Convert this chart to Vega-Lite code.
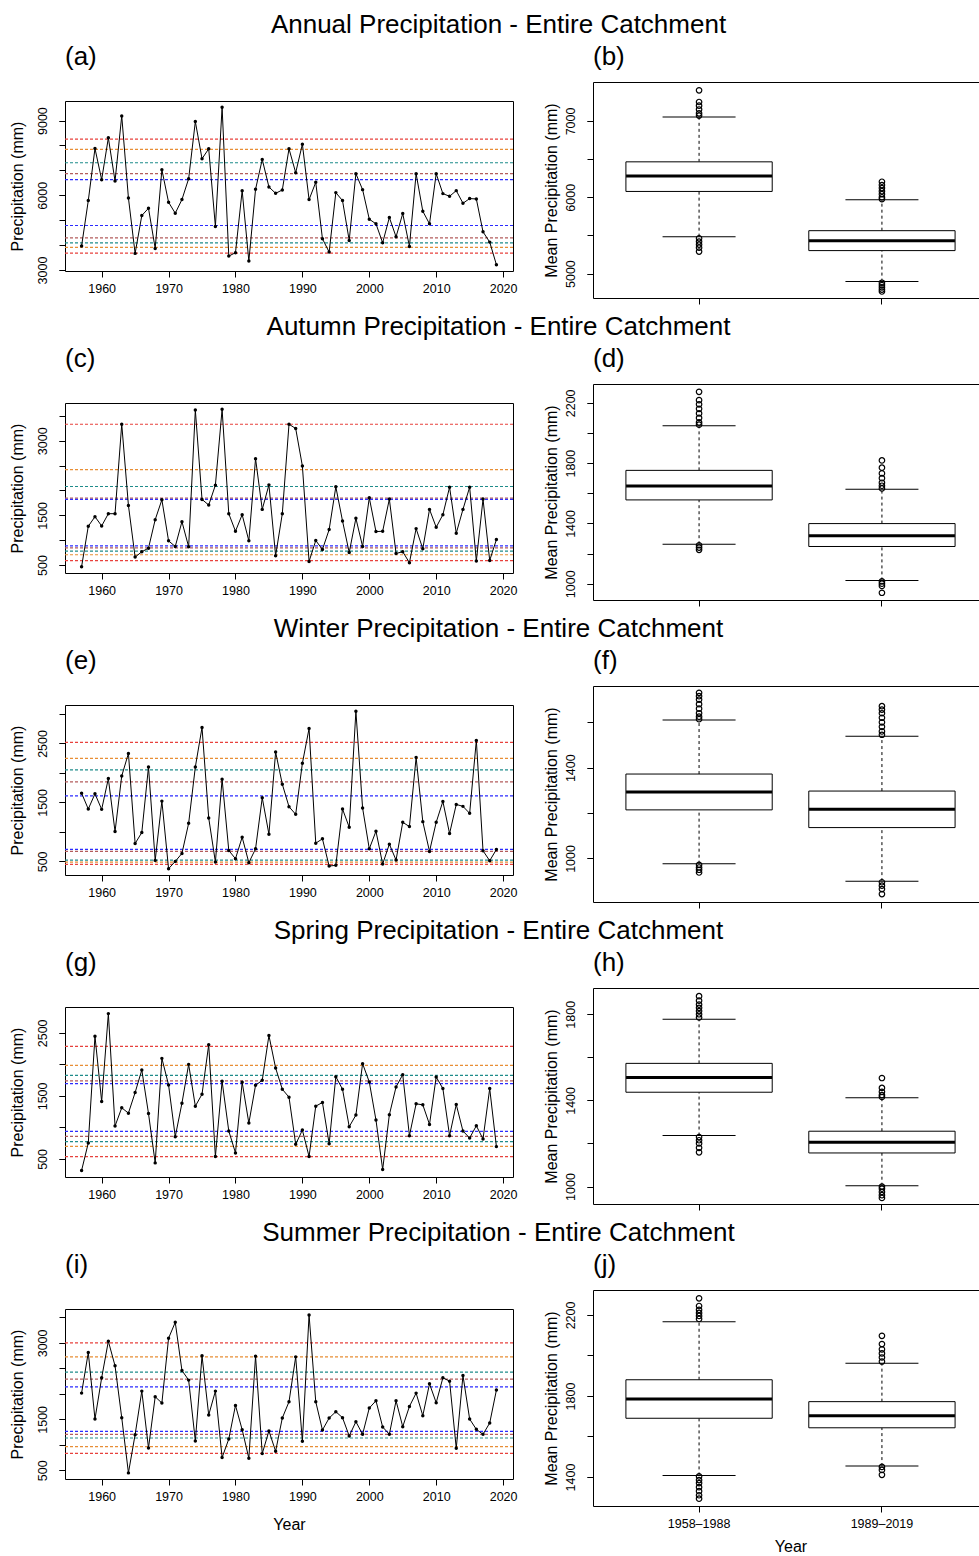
{
"$schema": "https://vega.github.io/schema/vega-lite/v6.json",
"background": "white",
"padding": {"left": 8, "top": 11, "right": 0, "bottom": 0},
"datasets": {
"series": [
{"season":"Annual","year":1957,"precip":3960},{"season":"Annual","year":1958,"precip":5787},{"season":"Annual","year":1959,"precip":7880},{"season":"Annual","year":1960,"precip":6627},{"season":"Annual","year":1961,"precip":8307},{"season":"Annual","year":1962,"precip":6573},{"season":"Annual","year":1963,"precip":9187},{"season":"Annual","year":1964,"precip":5893},{"season":"Annual","year":1965,"precip":3667},{"season":"Annual","year":1966,"precip":5187},{"season":"Annual","year":1967,"precip":5480},{"season":"Annual","year":1968,"precip":3867},{"season":"Annual","year":1969,"precip":7027},{"season":"Annual","year":1970,"precip":5720},{"season":"Annual","year":1971,"precip":5280},{"season":"Annual","year":1972,"precip":5827},{"season":"Annual","year":1973,"precip":6667},{"season":"Annual","year":1974,"precip":8960},{"season":"Annual","year":1975,"precip":7467},{"season":"Annual","year":1976,"precip":7867},{"season":"Annual","year":1977,"precip":4747},{"season":"Annual","year":1978,"precip":9533},{"season":"Annual","year":1979,"precip":3560},{"season":"Annual","year":1980,"precip":3693},{"season":"Annual","year":1981,"precip":6187},{"season":"Annual","year":1982,"precip":3360},{"season":"Annual","year":1983,"precip":6240},{"season":"Annual","year":1984,"precip":7440},{"season":"Annual","year":1985,"precip":6333},{"season":"Annual","year":1986,"precip":6080},{"season":"Annual","year":1987,"precip":6213},{"season":"Annual","year":1988,"precip":7867},{"season":"Annual","year":1989,"precip":6907},{"season":"Annual","year":1990,"precip":8053},{"season":"Annual","year":1991,"precip":5827},{"season":"Annual","year":1992,"precip":6520},{"season":"Annual","year":1993,"precip":4253},{"season":"Annual","year":1994,"precip":3720},{"season":"Annual","year":1995,"precip":6107},{"season":"Annual","year":1996,"precip":5787},{"season":"Annual","year":1997,"precip":4187},{"season":"Annual","year":1998,"precip":6867},{"season":"Annual","year":1999,"precip":6227},{"season":"Annual","year":2000,"precip":5040},{"season":"Annual","year":2001,"precip":4853},{"season":"Annual","year":2002,"precip":4093},{"season":"Annual","year":2003,"precip":5107},{"season":"Annual","year":2004,"precip":4333},{"season":"Annual","year":2005,"precip":5267},{"season":"Annual","year":2006,"precip":3947},{"season":"Annual","year":2007,"precip":6867},{"season":"Annual","year":2008,"precip":5360},{"season":"Annual","year":2009,"precip":4853},{"season":"Annual","year":2010,"precip":6867},{"season":"Annual","year":2011,"precip":6067},{"season":"Annual","year":2012,"precip":5960},{"season":"Annual","year":2013,"precip":6187},{"season":"Annual","year":2014,"precip":5680},{"season":"Annual","year":2015,"precip":5867},{"season":"Annual","year":2016,"precip":5853},{"season":"Annual","year":2017,"precip":4533},{"season":"Annual","year":2018,"precip":4120},{"season":"Annual","year":2019,"precip":3213},
{"season":"Autumn","year":1957,"precip":467},{"season":"Autumn","year":1958,"precip":1280},{"season":"Autumn","year":1959,"precip":1473},{"season":"Autumn","year":1960,"precip":1287},{"season":"Autumn","year":1961,"precip":1533},{"season":"Autumn","year":1962,"precip":1533},{"season":"Autumn","year":1963,"precip":3333},{"season":"Autumn","year":1964,"precip":1700},{"season":"Autumn","year":1965,"precip":660},{"season":"Autumn","year":1966,"precip":767},{"season":"Autumn","year":1967,"precip":840},{"season":"Autumn","year":1968,"precip":1413},{"season":"Autumn","year":1969,"precip":1813},{"season":"Autumn","year":1970,"precip":987},{"season":"Autumn","year":1971,"precip":873},{"season":"Autumn","year":1972,"precip":1373},{"season":"Autumn","year":1973,"precip":867},{"season":"Autumn","year":1974,"precip":3620},{"season":"Autumn","year":1975,"precip":1820},{"season":"Autumn","year":1976,"precip":1707},{"season":"Autumn","year":1977,"precip":2107},{"season":"Autumn","year":1978,"precip":3633},{"season":"Autumn","year":1979,"precip":1533},{"season":"Autumn","year":1980,"precip":1180},{"season":"Autumn","year":1981,"precip":1513},{"season":"Autumn","year":1982,"precip":987},{"season":"Autumn","year":1983,"precip":2640},{"season":"Autumn","year":1984,"precip":1620},{"season":"Autumn","year":1985,"precip":2113},{"season":"Autumn","year":1986,"precip":687},{"season":"Autumn","year":1987,"precip":1533},{"season":"Autumn","year":1988,"precip":3333},{"season":"Autumn","year":1989,"precip":3247},{"season":"Autumn","year":1990,"precip":2493},{"season":"Autumn","year":1991,"precip":573},{"season":"Autumn","year":1992,"precip":993},{"season":"Autumn","year":1993,"precip":813},{"season":"Autumn","year":1994,"precip":1213},{"season":"Autumn","year":1995,"precip":2073},{"season":"Autumn","year":1996,"precip":1387},{"season":"Autumn","year":1997,"precip":753},{"season":"Autumn","year":1998,"precip":1440},{"season":"Autumn","year":1999,"precip":873},{"season":"Autumn","year":2000,"precip":1853},{"season":"Autumn","year":2001,"precip":1173},{"season":"Autumn","year":2002,"precip":1180},{"season":"Autumn","year":2003,"precip":1827},{"season":"Autumn","year":2004,"precip":733},{"season":"Autumn","year":2005,"precip":767},{"season":"Autumn","year":2006,"precip":547},{"season":"Autumn","year":2007,"precip":1233},{"season":"Autumn","year":2008,"precip":827},{"season":"Autumn","year":2009,"precip":1620},{"season":"Autumn","year":2010,"precip":1260},{"season":"Autumn","year":2011,"precip":1513},{"season":"Autumn","year":2012,"precip":2067},{"season":"Autumn","year":2013,"precip":1140},{"season":"Autumn","year":2014,"precip":1620},{"season":"Autumn","year":2015,"precip":2067},{"season":"Autumn","year":2016,"precip":580},{"season":"Autumn","year":2017,"precip":1827},{"season":"Autumn","year":2018,"precip":593},{"season":"Autumn","year":2019,"precip":1013},
{"season":"Winter","year":1957,"precip":1657},{"season":"Winter","year":1958,"precip":1388},{"season":"Winter","year":1959,"precip":1646},{"season":"Winter","year":1960,"precip":1382},{"season":"Winter","year":1961,"precip":1904},{"season":"Winter","year":1962,"precip":1006},{"season":"Winter","year":1963,"precip":1949},{"season":"Winter","year":1964,"precip":2331},{"season":"Winter","year":1965,"precip":803},{"season":"Winter","year":1966,"precip":989},{"season":"Winter","year":1967,"precip":2101},{"season":"Winter","year":1968,"precip":517},{"season":"Winter","year":1969,"precip":1522},{"season":"Winter","year":1970,"precip":376},{"season":"Winter","year":1971,"precip":500},{"season":"Winter","year":1972,"precip":635},{"season":"Winter","year":1973,"precip":1146},{"season":"Winter","year":1974,"precip":2101},{"season":"Winter","year":1975,"precip":2770},{"season":"Winter","year":1976,"precip":1236},{"season":"Winter","year":1977,"precip":489},{"season":"Winter","year":1978,"precip":1893},{"season":"Winter","year":1979,"precip":685},{"season":"Winter","year":1980,"precip":545},{"season":"Winter","year":1981,"precip":910},{"season":"Winter","year":1982,"precip":478},{"season":"Winter","year":1983,"precip":713},{"season":"Winter","year":1984,"precip":1579},{"season":"Winter","year":1985,"precip":961},{"season":"Winter","year":1986,"precip":2354},{"season":"Winter","year":1987,"precip":1809},{"season":"Winter","year":1988,"precip":1427},{"season":"Winter","year":1989,"precip":1298},{"season":"Winter","year":1990,"precip":2163},{"season":"Winter","year":1991,"precip":2753},{"season":"Winter","year":1992,"precip":809},{"season":"Winter","year":1993,"precip":882},{"season":"Winter","year":1994,"precip":421},{"season":"Winter","year":1995,"precip":433},{"season":"Winter","year":1996,"precip":1388},{"season":"Winter","year":1997,"precip":1079},{"season":"Winter","year":1998,"precip":3045},{"season":"Winter","year":1999,"precip":1404},{"season":"Winter","year":2000,"precip":713},{"season":"Winter","year":2001,"precip":1011},{"season":"Winter","year":2002,"precip":455},{"season":"Winter","year":2003,"precip":792},{"season":"Winter","year":2004,"precip":522},{"season":"Winter","year":2005,"precip":1163},{"season":"Winter","year":2006,"precip":1090},{"season":"Winter","year":2007,"precip":2264},{"season":"Winter","year":2008,"precip":1174},{"season":"Winter","year":2009,"precip":669},{"season":"Winter","year":2010,"precip":1163},{"season":"Winter","year":2011,"precip":1517},{"season":"Winter","year":2012,"precip":972},{"season":"Winter","year":2013,"precip":1466},{"season":"Winter","year":2014,"precip":1433},{"season":"Winter","year":2015,"precip":1315},{"season":"Winter","year":2016,"precip":2551},{"season":"Winter","year":2017,"precip":680},{"season":"Winter","year":2018,"precip":511},{"season":"Winter","year":2019,"precip":702},
{"season":"Spring","year":1957,"precip":316},{"season":"Spring","year":1958,"precip":753},{"season":"Spring","year":1959,"precip":2447},{"season":"Spring","year":1960,"precip":1411},{"season":"Spring","year":1961,"precip":2805},{"season":"Spring","year":1962,"precip":1021},{"season":"Spring","year":1963,"precip":1311},{"season":"Spring","year":1964,"precip":1226},{"season":"Spring","year":1965,"precip":1553},{"season":"Spring","year":1966,"precip":1911},{"season":"Spring","year":1967,"precip":1221},{"season":"Spring","year":1968,"precip":437},{"season":"Spring","year":1969,"precip":2095},{"season":"Spring","year":1970,"precip":1674},{"season":"Spring","year":1971,"precip":853},{"season":"Spring","year":1972,"precip":1384},{"season":"Spring","year":1973,"precip":2000},{"season":"Spring","year":1974,"precip":1337},{"season":"Spring","year":1975,"precip":1526},{"season":"Spring","year":1976,"precip":2311},{"season":"Spring","year":1977,"precip":537},{"season":"Spring","year":1978,"precip":1732},{"season":"Spring","year":1979,"precip":942},{"season":"Spring","year":1980,"precip":595},{"season":"Spring","year":1981,"precip":1716},{"season":"Spring","year":1982,"precip":1068},{"season":"Spring","year":1983,"precip":1668},{"season":"Spring","year":1984,"precip":1747},{"season":"Spring","year":1985,"precip":2458},{"season":"Spring","year":1986,"precip":1942},{"season":"Spring","year":1987,"precip":1605},{"season":"Spring","year":1988,"precip":1479},{"season":"Spring","year":1989,"precip":732},{"season":"Spring","year":1990,"precip":958},{"season":"Spring","year":1991,"precip":537},{"season":"Spring","year":1992,"precip":1337},{"season":"Spring","year":1993,"precip":1395},{"season":"Spring","year":1994,"precip":742},{"season":"Spring","year":1995,"precip":1805},{"season":"Spring","year":1996,"precip":1605},{"season":"Spring","year":1997,"precip":1011},{"season":"Spring","year":1998,"precip":1195},{"season":"Spring","year":1999,"precip":2011},{"season":"Spring","year":2000,"precip":1721},{"season":"Spring","year":2001,"precip":1116},{"season":"Spring","year":2002,"precip":332},{"season":"Spring","year":2003,"precip":1200},{"season":"Spring","year":2004,"precip":1642},{"season":"Spring","year":2005,"precip":1837},{"season":"Spring","year":2006,"precip":868},{"season":"Spring","year":2007,"precip":1374},{"season":"Spring","year":2008,"precip":1358},{"season":"Spring","year":2009,"precip":1047},{"season":"Spring","year":2010,"precip":1800},{"season":"Spring","year":2011,"precip":1616},{"season":"Spring","year":2012,"precip":868},{"season":"Spring","year":2013,"precip":1363},{"season":"Spring","year":2014,"precip":942},{"season":"Spring","year":2015,"precip":832},{"season":"Spring","year":2016,"precip":1026},{"season":"Spring","year":2017,"precip":816},{"season":"Spring","year":2018,"precip":1616},{"season":"Spring","year":2019,"precip":695},
{"season":"Summer","year":1957,"precip":2015},{"season":"Summer","year":1958,"precip":2811},{"season":"Summer","year":1959,"precip":1506},{"season":"Summer","year":1960,"precip":2315},{"season":"Summer","year":1961,"precip":3033},{"season":"Summer","year":1962,"precip":2550},{"season":"Summer","year":1963,"precip":1533},{"season":"Summer","year":1964,"precip":450},{"season":"Summer","year":1965,"precip":1200},{"season":"Summer","year":1966,"precip":2054},{"season":"Summer","year":1967,"precip":939},{"season":"Summer","year":1968,"precip":1943},{"season":"Summer","year":1969,"precip":1820},{"season":"Summer","year":1970,"precip":3091},{"season":"Summer","year":1971,"precip":3404},{"season":"Summer","year":1972,"precip":2459},{"season":"Summer","year":1973,"precip":2270},{"season":"Summer","year":1974,"precip":1076},{"season":"Summer","year":1975,"precip":2746},{"season":"Summer","year":1976,"precip":1585},{"season":"Summer","year":1977,"precip":2054},{"season":"Summer","year":1978,"precip":750},{"season":"Summer","year":1979,"precip":1115},{"season":"Summer","year":1980,"precip":1774},{"season":"Summer","year":1981,"precip":1298},{"season":"Summer","year":1982,"precip":737},{"season":"Summer","year":1983,"precip":2739},{"season":"Summer","year":1984,"precip":828},{"season":"Summer","year":1985,"precip":1272},{"season":"Summer","year":1986,"precip":874},{"season":"Summer","year":1987,"precip":1526},{"season":"Summer","year":1988,"precip":1846},{"season":"Summer","year":1989,"precip":2726},{"season":"Summer","year":1990,"precip":1070},{"season":"Summer","year":1991,"precip":3548},{"season":"Summer","year":1992,"precip":1846},{"season":"Summer","year":1993,"precip":1291},{"season":"Summer","year":1994,"precip":1526},{"season":"Summer","year":1995,"precip":1650},{"season":"Summer","year":1996,"precip":1533},{"season":"Summer","year":1997,"precip":1174},{"season":"Summer","year":1998,"precip":1454},{"season":"Summer","year":1999,"precip":1207},{"season":"Summer","year":2000,"precip":1722},{"season":"Summer","year":2001,"precip":1865},{"season":"Summer","year":2002,"precip":1350},{"season":"Summer","year":2003,"precip":1207},{"season":"Summer","year":2004,"precip":1865},{"season":"Summer","year":2005,"precip":1356},{"season":"Summer","year":2006,"precip":1754},{"season":"Summer","year":2007,"precip":2015},{"season":"Summer","year":2008,"precip":1572},{"season":"Summer","year":2009,"precip":2198},{"season":"Summer","year":2010,"precip":1826},{"season":"Summer","year":2011,"precip":2315},{"season":"Summer","year":2012,"precip":2250},{"season":"Summer","year":2013,"precip":933},{"season":"Summer","year":2014,"precip":2361},{"season":"Summer","year":2015,"precip":1506},{"season":"Summer","year":2016,"precip":1304},{"season":"Summer","year":2017,"precip":1207},{"season":"Summer","year":2018,"precip":1428},{"season":"Summer","year":2019,"precip":2074}
],
"thresholds": [
{"season":"Annual","level":"L1","value":8253},{"season":"Annual","level":"L2","value":7840},{"season":"Annual","level":"L3","value":7307},{"season":"Annual","level":"L4","value":6867},{"season":"Annual","level":"L5","value":6627},
{"season":"Annual","level":"L5","value":4787},{"season":"Annual","level":"L4","value":4293},{"season":"Annual","level":"L3","value":4093},{"season":"Annual","level":"L2","value":3907},{"season":"Annual","level":"L1","value":3680},
{"season":"Autumn","level":"L1","value":3333},{"season":"Autumn","level":"L2","value":2420},{"season":"Autumn","level":"L3","value":2080},{"season":"Autumn","level":"L4","value":1847},{"season":"Autumn","level":"L5","value":1820},
{"season":"Autumn","level":"L5","value":887},{"season":"Autumn","level":"L4","value":847},{"season":"Autumn","level":"L3","value":780},{"season":"Autumn","level":"L2","value":707},{"season":"Autumn","level":"L1","value":587},
{"season":"Winter","level":"L1","value":2517},{"season":"Winter","level":"L2","value":2247},{"season":"Winter","level":"L3","value":2051},{"season":"Winter","level":"L4","value":1848},{"season":"Winter","level":"L5","value":1612},
{"season":"Winter","level":"L5","value":702},{"season":"Winter","level":"L4","value":669},{"season":"Winter","level":"L3","value":522},{"season":"Winter","level":"L2","value":489},{"season":"Winter","level":"L1","value":449},
{"season":"Spring","level":"L1","value":2284},{"season":"Spring","level":"L2","value":1984},{"season":"Spring","level":"L3","value":1826},{"season":"Spring","level":"L4","value":1737},{"season":"Spring","level":"L5","value":1695},
{"season":"Spring","level":"L5","value":937},{"season":"Spring","level":"L4","value":858},{"season":"Spring","level":"L3","value":774},{"season":"Spring","level":"L2","value":700},{"season":"Spring","level":"L1","value":537},
{"season":"Summer","level":"L1","value":3000},{"season":"Summer","level":"L2","value":2726},{"season":"Summer","level":"L3","value":2426},{"season":"Summer","level":"L4","value":2289},{"season":"Summer","level":"L5","value":2139},
{"season":"Summer","level":"L5","value":1265},{"season":"Summer","level":"L4","value":1206},{"season":"Summer","level":"L3","value":1134},{"season":"Summer","level":"L2","value":965},{"season":"Summer","level":"L1","value":834}
],
"boxes": [
{"season":"Annual","period":"1958–1988","lw":5484,"q1":6076,"med":6277,"q3":6464,"uw":7052},
{"season":"Annual","period":"1989–2019","lw":4895,"q1":5301,"med":5431,"q3":5562,"uw":5967},
{"season":"Autumn","period":"1958–1988","lw":1262,"q1":1556,"med":1648,"q3":1752,"uw":2048},
{"season":"Autumn","period":"1989–2019","lw":1022,"q1":1247,"med":1318,"q3":1399,"uw":1626},
{"season":"Winter","period":"1958–1988","lw":977,"q1":1214,"med":1293,"q3":1372,"uw":1610},
{"season":"Winter","period":"1989–2019","lw":900,"q1":1136,"med":1217,"q3":1297,"uw":1539},
{"season":"Spring","period":"1958–1988","lw":1237,"q1":1438,"med":1506,"q3":1572,"uw":1777},
{"season":"Spring","period":"1989–2019","lw":1004,"q1":1156,"med":1206,"q3":1257,"uw":1412},
{"season":"Summer","period":"1958–1988","lw":1408,"q1":1690,"med":1785,"q3":1880,"uw":2166},
{"season":"Summer","period":"1989–2019","lw":1454,"q1":1643,"med":1703,"q3":1772,"uw":1962}
],
"outliers": [
{"season":"Annual","period":"1958–1988","value":7401},{"season":"Annual","period":"1958–1988","value":7248},{"season":"Annual","period":"1958–1988","value":7200},{"season":"Annual","period":"1958–1988","value":7150},{"season":"Annual","period":"1958–1988","value":7100},{"season":"Annual","period":"1958–1988","value":7070},{"season":"Annual","period":"1958–1988","value":5462},{"season":"Annual","period":"1958–1988","value":5420},{"season":"Annual","period":"1958–1988","value":5380},{"season":"Annual","period":"1958–1988","value":5340},{"season":"Annual","period":"1958–1988","value":5288},
{"season":"Annual","period":"1989–2019","value":6203},{"season":"Annual","period":"1989–2019","value":6160},{"season":"Annual","period":"1989–2019","value":6120},{"season":"Annual","period":"1989–2019","value":6080},{"season":"Annual","period":"1989–2019","value":6040},{"season":"Annual","period":"1989–2019","value":6000},{"season":"Annual","period":"1989–2019","value":5976},{"season":"Annual","period":"1989–2019","value":4880},{"season":"Annual","period":"1989–2019","value":4850},{"season":"Annual","period":"1989–2019","value":4820},{"season":"Annual","period":"1989–2019","value":4790},{"season":"Annual","period":"1989–2019","value":4765},
{"season":"Autumn","period":"1958–1988","value":2273},{"season":"Autumn","period":"1958–1988","value":2218},{"season":"Autumn","period":"1958–1988","value":2190},{"season":"Autumn","period":"1958–1988","value":2160},{"season":"Autumn","period":"1958–1988","value":2130},{"season":"Autumn","period":"1958–1988","value":2100},{"season":"Autumn","period":"1958–1988","value":2070},{"season":"Autumn","period":"1958–1988","value":2055},{"season":"Autumn","period":"1958–1988","value":1255},{"season":"Autumn","period":"1958–1988","value":1240},{"season":"Autumn","period":"1958–1988","value":1225},
{"season":"Autumn","period":"1989–2019","value":1818},{"season":"Autumn","period":"1989–2019","value":1770},{"season":"Autumn","period":"1989–2019","value":1732},{"season":"Autumn","period":"1989–2019","value":1700},{"season":"Autumn","period":"1989–2019","value":1670},{"season":"Autumn","period":"1989–2019","value":1650},{"season":"Autumn","period":"1989–2019","value":1632},{"season":"Autumn","period":"1989–2019","value":1015},{"season":"Autumn","period":"1989–2019","value":1000},{"season":"Autumn","period":"1989–2019","value":985},{"season":"Autumn","period":"1989–2019","value":940},
{"season":"Winter","period":"1958–1988","value":1730},{"season":"Winter","period":"1958–1988","value":1715},{"season":"Winter","period":"1958–1988","value":1700},{"season":"Winter","period":"1958–1988","value":1680},{"season":"Winter","period":"1958–1988","value":1660},{"season":"Winter","period":"1958–1988","value":1640},{"season":"Winter","period":"1958–1988","value":1625},{"season":"Winter","period":"1958–1988","value":1614},{"season":"Winter","period":"1958–1988","value":972},{"season":"Winter","period":"1958–1988","value":960},{"season":"Winter","period":"1958–1988","value":950},{"season":"Winter","period":"1958–1988","value":938},
{"season":"Winter","period":"1989–2019","value":1671},{"season":"Winter","period":"1989–2019","value":1656},{"season":"Winter","period":"1989–2019","value":1640},{"season":"Winter","period":"1989–2019","value":1620},{"season":"Winter","period":"1989–2019","value":1600},{"season":"Winter","period":"1989–2019","value":1580},{"season":"Winter","period":"1989–2019","value":1560},{"season":"Winter","period":"1989–2019","value":1545},{"season":"Winter","period":"1989–2019","value":895},{"season":"Winter","period":"1989–2019","value":880},{"season":"Winter","period":"1989–2019","value":865},{"season":"Winter","period":"1989–2019","value":843},
{"season":"Spring","period":"1958–1988","value":1884},{"season":"Spring","period":"1958–1988","value":1863},{"season":"Spring","period":"1958–1988","value":1845},{"season":"Spring","period":"1958–1988","value":1830},{"season":"Spring","period":"1958–1988","value":1815},{"season":"Spring","period":"1958–1988","value":1800},{"season":"Spring","period":"1958–1988","value":1785},{"season":"Spring","period":"1958–1988","value":1230},{"season":"Spring","period":"1958–1988","value":1215},{"season":"Spring","period":"1958–1988","value":1200},{"season":"Spring","period":"1958–1988","value":1180},{"season":"Spring","period":"1958–1988","value":1159},
{"season":"Spring","period":"1989–2019","value":1504},{"season":"Spring","period":"1989–2019","value":1458},{"season":"Spring","period":"1989–2019","value":1440},{"season":"Spring","period":"1989–2019","value":1425},{"season":"Spring","period":"1989–2019","value":1416},{"season":"Spring","period":"1989–2019","value":1000},{"season":"Spring","period":"1989–2019","value":990},{"season":"Spring","period":"1989–2019","value":975},{"season":"Spring","period":"1989–2019","value":960},{"season":"Spring","period":"1989–2019","value":947},
{"season":"Summer","period":"1958–1988","value":2282},{"season":"Summer","period":"1958–1988","value":2244},{"season":"Summer","period":"1958–1988","value":2225},{"season":"Summer","period":"1958–1988","value":2210},{"season":"Summer","period":"1958–1988","value":2195},{"season":"Summer","period":"1958–1988","value":2180},{"season":"Summer","period":"1958–1988","value":1403},{"season":"Summer","period":"1958–1988","value":1385},{"season":"Summer","period":"1958–1988","value":1370},{"season":"Summer","period":"1958–1988","value":1350},{"season":"Summer","period":"1958–1988","value":1330},{"season":"Summer","period":"1958–1988","value":1310},{"season":"Summer","period":"1958–1988","value":1293},
{"season":"Summer","period":"1989–2019","value":2097},{"season":"Summer","period":"1989–2019","value":2056},{"season":"Summer","period":"1989–2019","value":2030},{"season":"Summer","period":"1989–2019","value":2010},{"season":"Summer","period":"1989–2019","value":1990},{"season":"Summer","period":"1989–2019","value":1970},{"season":"Summer","period":"1989–2019","value":1450},{"season":"Summer","period":"1989–2019","value":1435},{"season":"Summer","period":"1989–2019","value":1411}
]
},
"vconcat": [
{
"title": {"text": "Annual Precipitation - Entire Catchment", "anchor": "middle", "offset": 6},
"spacing": 24,
"hconcat": [
{"title": {"text": "(a)", "anchor": "start", "frame": "group", "offset": 12}, "spacing": 17,
"vconcat": [
{"width": 448, "height": 1, "data": {"values": [{}]}, "mark": {"type": "rule", "opacity": 0}, "encoding": {}, "view": {"stroke": null}},
{"width": 448, "height": 170, "resolve": {"axis": {"y": "independent"}},
"layer": [
{"data": {"name": "thresholds"}, "transform": [{"filter": "datum.season == 'Annual'"}], "mark": {"type": "rule", "strokeDash": [3, 2], "strokeWidth": 1.2},
 "encoding": {"y": {"field": "value", "type": "quantitative", "scale": {"domain": [2960, 9786], "nice": false, "zero": false}, "axis": {"orient": "left", "title": null, "labels": false, "values": [3000,4000,5000,6000,7000,8000,9000]}},
  "color": {"field": "level", "type": "nominal", "scale": {"domain": ["L1","L2","L3","L4","L5"], "range": ["#E8413C","#E88E35","#1E8C8A","#B35C5C","#2B2BFF"]}, "legend": null}}},
{"data": {"name": "series"}, "transform": [{"filter": "datum.season == 'Annual'"}], "mark": {"type": "line", "color": "black", "strokeWidth": 1},
 "encoding": {"x": {"field": "year", "type": "quantitative", "title": null, "scale": {"domain": [1954.52, 2021.48], "nice": false, "zero": false}, "axis": {"values": [1960,1970,1980,1990,2000,2010,2020], "format": "d"}},
  "y": {"field": "precip", "type": "quantitative", "title": "Precipitation (mm)", "scale": {"domain": [2960, 9786], "nice": false, "zero": false}, "axis": {"orient": "left", "values": [3000,6000,9000], "format": "d", "titlePadding": 11}}}},
{"data": {"name": "series"}, "transform": [{"filter": "datum.season == 'Annual'"}], "mark": {"type": "point", "filled": true, "color": "black", "size": 12, "opacity": 1},
 "encoding": {"x": {"field": "year", "type": "quantitative"}, "y": {"field": "precip", "type": "quantitative", "axis": null}}}
]}
]},
{"title": {"text": "(b)", "anchor": "start", "frame": "group", "offset": 12}, "width": 395, "height": 216, "resolve": {"axis": {"y": "independent"}},
"layer": [
{"data": {"name": "boxes"}, "transform": [{"filter": "datum.season == 'Annual'"}], "mark": {"type": "rule", "strokeDash": [3, 3], "color": "black", "strokeWidth": 1},
 "encoding": {"x": {"field": "period", "type": "nominal", "title": null, "scale": {"type": "band", "domain": ["1958–1988","1989–2019"], "paddingInner": 0.2, "paddingOuter": 0.18}, "axis": {"labels": false, "bandPosition": 0.5}},
  "y": {"field": "q3", "type": "quantitative", "scale": {"domain": [4680, 7510], "nice": false, "zero": false}, "axis": {"orient": "left", "title": null, "labels": false, "values": [5000,5500,6000,6500,7000]}},
  "y2": {"field": "uw"}}},
{"data": {"name": "boxes"}, "transform": [{"filter": "datum.season == 'Annual'"}], "mark": {"type": "rule", "strokeDash": [3, 3], "color": "black", "strokeWidth": 1},
 "encoding": {"x": {"field": "period", "type": "nominal"}, "y": {"field": "lw", "type": "quantitative", "axis": null}, "y2": {"field": "q1"}}},
{"data": {"name": "boxes"}, "transform": [{"filter": "datum.season == 'Annual'"}], "mark": {"type": "bar", "fill": "white", "stroke": "black", "strokeWidth": 1},
 "encoding": {"x": {"field": "period", "type": "nominal"}, "y": {"field": "q1", "type": "quantitative", "title": "Mean Precipitation (mm)", "axis": {"orient": "left", "values": [5000,6000,7000], "format": "d", "titlePadding": 5}}, "y2": {"field": "q3"}}},
{"data": {"name": "boxes"}, "transform": [{"filter": "datum.season == 'Annual'"}], "mark": {"type": "tick", "color": "black", "thickness": 3, "size": 146, "opacity": 1},
 "encoding": {"x": {"field": "period", "type": "nominal"}, "y": {"field": "med", "type": "quantitative", "axis": null}}},
{"data": {"name": "boxes"}, "transform": [{"filter": "datum.season == 'Annual'"}], "mark": {"type": "tick", "color": "black", "thickness": 1, "size": 73, "opacity": 1},
 "encoding": {"x": {"field": "period", "type": "nominal"}, "y": {"field": "uw", "type": "quantitative", "axis": null}}},
{"data": {"name": "boxes"}, "transform": [{"filter": "datum.season == 'Annual'"}], "mark": {"type": "tick", "color": "black", "thickness": 1, "size": 73, "opacity": 1},
 "encoding": {"x": {"field": "period", "type": "nominal"}, "y": {"field": "lw", "type": "quantitative", "axis": null}}},
{"data": {"name": "outliers"}, "transform": [{"filter": "datum.season == 'Annual'"}], "mark": {"type": "point", "shape": "circle", "filled": false, "color": "black", "size": 30, "strokeWidth": 1.2, "opacity": 1},
 "encoding": {"x": {"field": "period", "type": "nominal"}, "y": {"field": "value", "type": "quantitative", "axis": null}}}
]}
]
},
{
"title": {"text": "Autumn Precipitation - Entire Catchment", "anchor": "middle", "offset": 6},
"spacing": 24,
"hconcat": [
{"title": {"text": "(c)", "anchor": "start", "frame": "group", "offset": 12}, "spacing": 17,
"vconcat": [
{"width": 448, "height": 1, "data": {"values": [{}]}, "mark": {"type": "rule", "opacity": 0}, "encoding": {}, "view": {"stroke": null}},
{"width": 448, "height": 170, "resolve": {"axis": {"y": "independent"}},
"layer": [
{"data": {"name": "thresholds"}, "transform": [{"filter": "datum.season == 'Autumn'"}], "mark": {"type": "rule", "strokeDash": [3, 2], "strokeWidth": 1.2},
 "encoding": {"y": {"field": "value", "type": "quantitative", "scale": {"domain": [340, 3760], "nice": false, "zero": false}, "axis": {"orient": "left", "title": null, "labels": false, "values": [500,1000,1500,2000,2500,3000,3500]}},
  "color": {"field": "level", "type": "nominal", "scale": {"domain": ["L1","L2","L3","L4","L5"], "range": ["#E8413C","#E88E35","#1E8C8A","#B35C5C","#2B2BFF"]}, "legend": null}}},
{"data": {"name": "series"}, "transform": [{"filter": "datum.season == 'Autumn'"}], "mark": {"type": "line", "color": "black", "strokeWidth": 1},
 "encoding": {"x": {"field": "year", "type": "quantitative", "title": null, "scale": {"domain": [1954.52, 2021.48], "nice": false, "zero": false}, "axis": {"values": [1960,1970,1980,1990,2000,2010,2020], "format": "d"}},
  "y": {"field": "precip", "type": "quantitative", "title": "Precipitation (mm)", "scale": {"domain": [340, 3760], "nice": false, "zero": false}, "axis": {"orient": "left", "values": [500,1500,3000], "format": "d", "titlePadding": 11}}}},
{"data": {"name": "series"}, "transform": [{"filter": "datum.season == 'Autumn'"}], "mark": {"type": "point", "filled": true, "color": "black", "size": 12, "opacity": 1},
 "encoding": {"x": {"field": "year", "type": "quantitative"}, "y": {"field": "precip", "type": "quantitative", "axis": null}}}
]}
]},
{"title": {"text": "(d)", "anchor": "start", "frame": "group", "offset": 12}, "width": 395, "height": 216, "resolve": {"axis": {"y": "independent"}},
"layer": [
{"data": {"name": "boxes"}, "transform": [{"filter": "datum.season == 'Autumn'"}], "mark": {"type": "rule", "strokeDash": [3, 3], "color": "black", "strokeWidth": 1},
 "encoding": {"x": {"field": "period", "type": "nominal", "title": null, "scale": {"type": "band", "domain": ["1958–1988","1989–2019"], "paddingInner": 0.2, "paddingOuter": 0.18}, "axis": {"labels": false, "bandPosition": 0.5}},
  "y": {"field": "q3", "type": "quantitative", "scale": {"domain": [892, 2325], "nice": false, "zero": false}, "axis": {"orient": "left", "title": null, "labels": false, "values": [1000,1200,1400,1600,1800,2000,2200]}},
  "y2": {"field": "uw"}}},
{"data": {"name": "boxes"}, "transform": [{"filter": "datum.season == 'Autumn'"}], "mark": {"type": "rule", "strokeDash": [3, 3], "color": "black", "strokeWidth": 1},
 "encoding": {"x": {"field": "period", "type": "nominal"}, "y": {"field": "lw", "type": "quantitative", "axis": null}, "y2": {"field": "q1"}}},
{"data": {"name": "boxes"}, "transform": [{"filter": "datum.season == 'Autumn'"}], "mark": {"type": "bar", "fill": "white", "stroke": "black", "strokeWidth": 1},
 "encoding": {"x": {"field": "period", "type": "nominal"}, "y": {"field": "q1", "type": "quantitative", "title": "Mean Precipitation (mm)", "axis": {"orient": "left", "values": [1000,1400,1800,2200], "format": "d", "titlePadding": 5}}, "y2": {"field": "q3"}}},
{"data": {"name": "boxes"}, "transform": [{"filter": "datum.season == 'Autumn'"}], "mark": {"type": "tick", "color": "black", "thickness": 3, "size": 146, "opacity": 1},
 "encoding": {"x": {"field": "period", "type": "nominal"}, "y": {"field": "med", "type": "quantitative", "axis": null}}},
{"data": {"name": "boxes"}, "transform": [{"filter": "datum.season == 'Autumn'"}], "mark": {"type": "tick", "color": "black", "thickness": 1, "size": 73, "opacity": 1},
 "encoding": {"x": {"field": "period", "type": "nominal"}, "y": {"field": "uw", "type": "quantitative", "axis": null}}},
{"data": {"name": "boxes"}, "transform": [{"filter": "datum.season == 'Autumn'"}], "mark": {"type": "tick", "color": "black", "thickness": 1, "size": 73, "opacity": 1},
 "encoding": {"x": {"field": "period", "type": "nominal"}, "y": {"field": "lw", "type": "quantitative", "axis": null}}},
{"data": {"name": "outliers"}, "transform": [{"filter": "datum.season == 'Autumn'"}], "mark": {"type": "point", "shape": "circle", "filled": false, "color": "black", "size": 30, "strokeWidth": 1.2, "opacity": 1},
 "encoding": {"x": {"field": "period", "type": "nominal"}, "y": {"field": "value", "type": "quantitative", "axis": null}}}
]}
]
},
{
"title": {"text": "Winter Precipitation - Entire Catchment", "anchor": "middle", "offset": 6},
"spacing": 24,
"hconcat": [
{"title": {"text": "(e)", "anchor": "start", "frame": "group", "offset": 12}, "spacing": 17,
"vconcat": [
{"width": 448, "height": 1, "data": {"values": [{}]}, "mark": {"type": "rule", "opacity": 0}, "encoding": {}, "view": {"stroke": null}},
{"width": 448, "height": 170, "resolve": {"axis": {"y": "independent"}},
"layer": [
{"data": {"name": "thresholds"}, "transform": [{"filter": "datum.season == 'Winter'"}], "mark": {"type": "rule", "strokeDash": [3, 2], "strokeWidth": 1.2},
 "encoding": {"y": {"field": "value", "type": "quantitative", "scale": {"domain": [269, 3152], "nice": false, "zero": false}, "axis": {"orient": "left", "title": null, "labels": false, "values": [500,1000,1500,2000,2500,3000]}},
  "color": {"field": "level", "type": "nominal", "scale": {"domain": ["L1","L2","L3","L4","L5"], "range": ["#E8413C","#E88E35","#1E8C8A","#B35C5C","#2B2BFF"]}, "legend": null}}},
{"data": {"name": "series"}, "transform": [{"filter": "datum.season == 'Winter'"}], "mark": {"type": "line", "color": "black", "strokeWidth": 1},
 "encoding": {"x": {"field": "year", "type": "quantitative", "title": null, "scale": {"domain": [1954.52, 2021.48], "nice": false, "zero": false}, "axis": {"values": [1960,1970,1980,1990,2000,2010,2020], "format": "d"}},
  "y": {"field": "precip", "type": "quantitative", "title": "Precipitation (mm)", "scale": {"domain": [269, 3152], "nice": false, "zero": false}, "axis": {"orient": "left", "values": [500,1500,2500], "format": "d", "titlePadding": 11}}}},
{"data": {"name": "series"}, "transform": [{"filter": "datum.season == 'Winter'"}], "mark": {"type": "point", "filled": true, "color": "black", "size": 12, "opacity": 1},
 "encoding": {"x": {"field": "year", "type": "quantitative"}, "y": {"field": "precip", "type": "quantitative", "axis": null}}}
]}
]},
{"title": {"text": "(f)", "anchor": "start", "frame": "group", "offset": 12}, "width": 395, "height": 216, "resolve": {"axis": {"y": "independent"}},
"layer": [
{"data": {"name": "boxes"}, "transform": [{"filter": "datum.season == 'Winter'"}], "mark": {"type": "rule", "strokeDash": [3, 3], "color": "black", "strokeWidth": 1},
 "encoding": {"x": {"field": "period", "type": "nominal", "title": null, "scale": {"type": "band", "domain": ["1958–1988","1989–2019"], "paddingInner": 0.2, "paddingOuter": 0.18}, "axis": {"labels": false, "bandPosition": 0.5}},
  "y": {"field": "q3", "type": "quantitative", "scale": {"domain": [808, 1760], "nice": false, "zero": false}, "axis": {"orient": "left", "title": null, "labels": false, "values": [1000,1200,1400,1600]}},
  "y2": {"field": "uw"}}},
{"data": {"name": "boxes"}, "transform": [{"filter": "datum.season == 'Winter'"}], "mark": {"type": "rule", "strokeDash": [3, 3], "color": "black", "strokeWidth": 1},
 "encoding": {"x": {"field": "period", "type": "nominal"}, "y": {"field": "lw", "type": "quantitative", "axis": null}, "y2": {"field": "q1"}}},
{"data": {"name": "boxes"}, "transform": [{"filter": "datum.season == 'Winter'"}], "mark": {"type": "bar", "fill": "white", "stroke": "black", "strokeWidth": 1},
 "encoding": {"x": {"field": "period", "type": "nominal"}, "y": {"field": "q1", "type": "quantitative", "title": "Mean Precipitation (mm)", "axis": {"orient": "left", "values": [1000,1400], "format": "d", "titlePadding": 5}}, "y2": {"field": "q3"}}},
{"data": {"name": "boxes"}, "transform": [{"filter": "datum.season == 'Winter'"}], "mark": {"type": "tick", "color": "black", "thickness": 3, "size": 146, "opacity": 1},
 "encoding": {"x": {"field": "period", "type": "nominal"}, "y": {"field": "med", "type": "quantitative", "axis": null}}},
{"data": {"name": "boxes"}, "transform": [{"filter": "datum.season == 'Winter'"}], "mark": {"type": "tick", "color": "black", "thickness": 1, "size": 73, "opacity": 1},
 "encoding": {"x": {"field": "period", "type": "nominal"}, "y": {"field": "uw", "type": "quantitative", "axis": null}}},
{"data": {"name": "boxes"}, "transform": [{"filter": "datum.season == 'Winter'"}], "mark": {"type": "tick", "color": "black", "thickness": 1, "size": 73, "opacity": 1},
 "encoding": {"x": {"field": "period", "type": "nominal"}, "y": {"field": "lw", "type": "quantitative", "axis": null}}},
{"data": {"name": "outliers"}, "transform": [{"filter": "datum.season == 'Winter'"}], "mark": {"type": "point", "shape": "circle", "filled": false, "color": "black", "size": 30, "strokeWidth": 1.2, "opacity": 1},
 "encoding": {"x": {"field": "period", "type": "nominal"}, "y": {"field": "value", "type": "quantitative", "axis": null}}}
]}
]
},
{
"title": {"text": "Spring Precipitation - Entire Catchment", "anchor": "middle", "offset": 6},
"spacing": 24,
"hconcat": [
{"title": {"text": "(g)", "anchor": "start", "frame": "group", "offset": 12}, "spacing": 17,
"vconcat": [
{"width": 448, "height": 1, "data": {"values": [{}]}, "mark": {"type": "rule", "opacity": 0}, "encoding": {}, "view": {"stroke": null}},
{"width": 448, "height": 170, "resolve": {"axis": {"y": "independent"}},
"layer": [
{"data": {"name": "thresholds"}, "transform": [{"filter": "datum.season == 'Spring'"}], "mark": {"type": "rule", "strokeDash": [3, 2], "strokeWidth": 1.2},
 "encoding": {"y": {"field": "value", "type": "quantitative", "scale": {"domain": [213, 2910], "nice": false, "zero": false}, "axis": {"orient": "left", "title": null, "labels": false, "values": [500,1000,1500,2000,2500]}},
  "color": {"field": "level", "type": "nominal", "scale": {"domain": ["L1","L2","L3","L4","L5"], "range": ["#E8413C","#E88E35","#1E8C8A","#B35C5C","#2B2BFF"]}, "legend": null}}},
{"data": {"name": "series"}, "transform": [{"filter": "datum.season == 'Spring'"}], "mark": {"type": "line", "color": "black", "strokeWidth": 1},
 "encoding": {"x": {"field": "year", "type": "quantitative", "title": null, "scale": {"domain": [1954.52, 2021.48], "nice": false, "zero": false}, "axis": {"values": [1960,1970,1980,1990,2000,2010,2020], "format": "d"}},
  "y": {"field": "precip", "type": "quantitative", "title": "Precipitation (mm)", "scale": {"domain": [213, 2910], "nice": false, "zero": false}, "axis": {"orient": "left", "values": [500,1500,2500], "format": "d", "titlePadding": 11}}}},
{"data": {"name": "series"}, "transform": [{"filter": "datum.season == 'Spring'"}], "mark": {"type": "point", "filled": true, "color": "black", "size": 12, "opacity": 1},
 "encoding": {"x": {"field": "year", "type": "quantitative"}, "y": {"field": "precip", "type": "quantitative", "axis": null}}}
]}
]},
{"title": {"text": "(h)", "anchor": "start", "frame": "group", "offset": 12}, "width": 395, "height": 216, "resolve": {"axis": {"y": "independent"}},
"layer": [
{"data": {"name": "boxes"}, "transform": [{"filter": "datum.season == 'Spring'"}], "mark": {"type": "rule", "strokeDash": [3, 3], "color": "black", "strokeWidth": 1},
 "encoding": {"x": {"field": "period", "type": "nominal", "title": null, "scale": {"type": "band", "domain": ["1958–1988","1989–2019"], "paddingInner": 0.2, "paddingOuter": 0.18}, "axis": {"labels": false, "bandPosition": 0.5}},
  "y": {"field": "q3", "type": "quantitative", "scale": {"domain": [919, 1922], "nice": false, "zero": false}, "axis": {"orient": "left", "title": null, "labels": false, "values": [1000,1200,1400,1600,1800]}},
  "y2": {"field": "uw"}}},
{"data": {"name": "boxes"}, "transform": [{"filter": "datum.season == 'Spring'"}], "mark": {"type": "rule", "strokeDash": [3, 3], "color": "black", "strokeWidth": 1},
 "encoding": {"x": {"field": "period", "type": "nominal"}, "y": {"field": "lw", "type": "quantitative", "axis": null}, "y2": {"field": "q1"}}},
{"data": {"name": "boxes"}, "transform": [{"filter": "datum.season == 'Spring'"}], "mark": {"type": "bar", "fill": "white", "stroke": "black", "strokeWidth": 1},
 "encoding": {"x": {"field": "period", "type": "nominal"}, "y": {"field": "q1", "type": "quantitative", "title": "Mean Precipitation (mm)", "axis": {"orient": "left", "values": [1000,1400,1800], "format": "d", "titlePadding": 5}}, "y2": {"field": "q3"}}},
{"data": {"name": "boxes"}, "transform": [{"filter": "datum.season == 'Spring'"}], "mark": {"type": "tick", "color": "black", "thickness": 3, "size": 146, "opacity": 1},
 "encoding": {"x": {"field": "period", "type": "nominal"}, "y": {"field": "med", "type": "quantitative", "axis": null}}},
{"data": {"name": "boxes"}, "transform": [{"filter": "datum.season == 'Spring'"}], "mark": {"type": "tick", "color": "black", "thickness": 1, "size": 73, "opacity": 1},
 "encoding": {"x": {"field": "period", "type": "nominal"}, "y": {"field": "uw", "type": "quantitative", "axis": null}}},
{"data": {"name": "boxes"}, "transform": [{"filter": "datum.season == 'Spring'"}], "mark": {"type": "tick", "color": "black", "thickness": 1, "size": 73, "opacity": 1},
 "encoding": {"x": {"field": "period", "type": "nominal"}, "y": {"field": "lw", "type": "quantitative", "axis": null}}},
{"data": {"name": "outliers"}, "transform": [{"filter": "datum.season == 'Spring'"}], "mark": {"type": "point", "shape": "circle", "filled": false, "color": "black", "size": 30, "strokeWidth": 1.2, "opacity": 1},
 "encoding": {"x": {"field": "period", "type": "nominal"}, "y": {"field": "value", "type": "quantitative", "axis": null}}}
]}
]
},
{
"title": {"text": "Summer Precipitation - Entire Catchment", "anchor": "middle", "offset": 6},
"spacing": 24,
"hconcat": [
{"title": {"text": "(i)", "anchor": "start", "frame": "group", "offset": 12}, "spacing": 17,
"vconcat": [
{"width": 448, "height": 1, "data": {"values": [{}]}, "mark": {"type": "rule", "opacity": 0}, "encoding": {}, "view": {"stroke": null}},
{"width": 448, "height": 170, "resolve": {"axis": {"y": "independent"}},
"layer": [
{"data": {"name": "thresholds"}, "transform": [{"filter": "datum.season == 'Summer'"}], "mark": {"type": "rule", "strokeDash": [3, 2], "strokeWidth": 1.2},
 "encoding": {"y": {"field": "value", "type": "quantitative", "scale": {"domain": [330, 3665], "nice": false, "zero": false}, "axis": {"orient": "left", "title": null, "labels": false, "values": [500,1000,1500,2000,2500,3000,3500]}},
  "color": {"field": "level", "type": "nominal", "scale": {"domain": ["L1","L2","L3","L4","L5"], "range": ["#E8413C","#E88E35","#1E8C8A","#B35C5C","#2B2BFF"]}, "legend": null}}},
{"data": {"name": "series"}, "transform": [{"filter": "datum.season == 'Summer'"}], "mark": {"type": "line", "color": "black", "strokeWidth": 1},
 "encoding": {"x": {"field": "year", "type": "quantitative", "title": "Year", "scale": {"domain": [1954.52, 2021.48], "nice": false, "zero": false}, "axis": {"values": [1960,1970,1980,1990,2000,2010,2020], "format": "d", "titlePadding": 14}},
  "y": {"field": "precip", "type": "quantitative", "title": "Precipitation (mm)", "scale": {"domain": [330, 3665], "nice": false, "zero": false}, "axis": {"orient": "left", "values": [500,1500,3000], "format": "d", "titlePadding": 11}}}},
{"data": {"name": "series"}, "transform": [{"filter": "datum.season == 'Summer'"}], "mark": {"type": "point", "filled": true, "color": "black", "size": 12, "opacity": 1},
 "encoding": {"x": {"field": "year", "type": "quantitative"}, "y": {"field": "precip", "type": "quantitative", "axis": null}}}
]}
]},
{"title": {"text": "(j)", "anchor": "start", "frame": "group", "offset": 12}, "width": 395, "height": 216, "resolve": {"axis": {"y": "independent"}},
"layer": [
{"data": {"name": "boxes"}, "transform": [{"filter": "datum.season == 'Summer'"}], "mark": {"type": "rule", "strokeDash": [3, 3], "color": "black", "strokeWidth": 1},
 "encoding": {"x": {"field": "period", "type": "nominal", "title": "Year", "scale": {"type": "band", "domain": ["1958–1988","1989–2019"], "paddingInner": 0.2, "paddingOuter": 0.18}, "axis": {"labels": true, "labelAngle": 0, "labelAlign": "center", "labelBaseline": "top", "bandPosition": 0.5, "titlePadding": 9}},
  "y": {"field": "q3", "type": "quantitative", "scale": {"domain": [1257, 2323], "nice": false, "zero": false}, "axis": {"orient": "left", "title": null, "labels": false, "values": [1400,1600,1800,2000,2200]}},
  "y2": {"field": "uw"}}},
{"data": {"name": "boxes"}, "transform": [{"filter": "datum.season == 'Summer'"}], "mark": {"type": "rule", "strokeDash": [3, 3], "color": "black", "strokeWidth": 1},
 "encoding": {"x": {"field": "period", "type": "nominal"}, "y": {"field": "lw", "type": "quantitative", "axis": null}, "y2": {"field": "q1"}}},
{"data": {"name": "boxes"}, "transform": [{"filter": "datum.season == 'Summer'"}], "mark": {"type": "bar", "fill": "white", "stroke": "black", "strokeWidth": 1},
 "encoding": {"x": {"field": "period", "type": "nominal"}, "y": {"field": "q1", "type": "quantitative", "title": "Mean Precipitation (mm)", "axis": {"orient": "left", "values": [1400,1800,2200], "format": "d", "titlePadding": 5}}, "y2": {"field": "q3"}}},
{"data": {"name": "boxes"}, "transform": [{"filter": "datum.season == 'Summer'"}], "mark": {"type": "tick", "color": "black", "thickness": 3, "size": 146, "opacity": 1},
 "encoding": {"x": {"field": "period", "type": "nominal"}, "y": {"field": "med", "type": "quantitative", "axis": null}}},
{"data": {"name": "boxes"}, "transform": [{"filter": "datum.season == 'Summer'"}], "mark": {"type": "tick", "color": "black", "thickness": 1, "size": 73, "opacity": 1},
 "encoding": {"x": {"field": "period", "type": "nominal"}, "y": {"field": "uw", "type": "quantitative", "axis": null}}},
{"data": {"name": "boxes"}, "transform": [{"filter": "datum.season == 'Summer'"}], "mark": {"type": "tick", "color": "black", "thickness": 1, "size": 73, "opacity": 1},
 "encoding": {"x": {"field": "period", "type": "nominal"}, "y": {"field": "lw", "type": "quantitative", "axis": null}}},
{"data": {"name": "outliers"}, "transform": [{"filter": "datum.season == 'Summer'"}], "mark": {"type": "point", "shape": "circle", "filled": false, "color": "black", "size": 30, "strokeWidth": 1.2, "opacity": 1},
 "encoding": {"x": {"field": "period", "type": "nominal"}, "y": {"field": "value", "type": "quantitative", "axis": null}}}
]}
]
}
],
"spacing": 8,
"config": {
"font": "Liberation Sans",
"view": {"stroke": "black", "strokeWidth": 1},
"axis": {"domain": false, "grid": false, "ticks": true, "tickColor": "black", "tickSize": 6, "labelColor": "black", "labelFontSize": 12.5, "labelFont": "Liberation Sans", "titleFont": "Liberation Sans", "titleFontSize": 16, "titleFontWeight": "normal", "titleColor": "black", "labelPadding": 5, "titlePadding": 12, "labelOverlap": false, "labelFlush": false},
"axisY": {"labelAngle": -90, "labelAlign": "center", "labelBaseline": "bottom", "labelPadding": 10},
"title": {"font": "Liberation Sans", "fontSize": 26, "fontWeight": "normal", "color": "black"}
}
}
